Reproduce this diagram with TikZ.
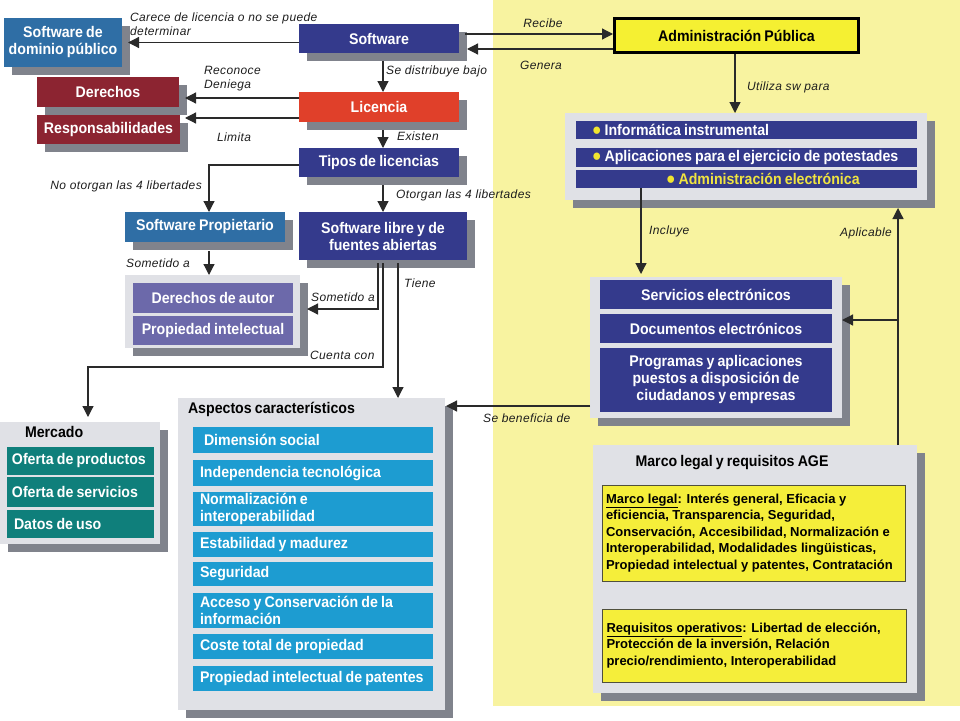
\documentclass[tikz,border=0pt]{standalone}
\usepackage{fontspec}
\setmainfont{Liberation Sans}
\newfontfamily\condfont{Liberation Sans}[FakeStretch=0.92,WordSpace=0.8]
\newfontfamily\lblfont{Liberation Sans}[LetterSpace=3]
\usetikzlibrary{arrows.meta,shadows,calc}
\definecolor{bgyellow}{RGB}{248,243,160}
\definecolor{dkblue}{RGB}{52,58,140}
\definecolor{stblue}{RGB}{47,110,165}
\definecolor{dkred}{RGB}{140,36,49}
\definecolor{licred}{RGB}{224,64,42}
\definecolor{purp}{RGB}{108,105,170}
\definecolor{tealbar}{RGB}{15,127,123}
\definecolor{cyanbar}{RGB}{29,156,209}
\definecolor{ltgray}{RGB}{224,225,230}
\definecolor{shgray}{RGB}{128,131,140}
\definecolor{admyellow}{RGB}{245,240,50}
\definecolor{boxyellow}{RGB}{245,238,58}
\definecolor{boxline}{RGB}{80,80,60}
\definecolor{bul}{RGB}{240,228,48}
\definecolor{ylwtext}{RGB}{240,228,64}
\definecolor{linec}{RGB}{42,42,42}
\definecolor{lblc}{RGB}{30,30,30}
\newcommand{\ind}{\hspace*{7pt}}
\newcommand{\bult}{{\color{bul}\fontsize{17}{17}\selectfont ●}}
\begin{document}
\begin{tikzpicture}[x=1pt,y=-1pt,
  bx/.style={inner sep=0pt, outer sep=0pt, text=white, font=\condfont\bfseries\fontsize{15.4}{17}\selectfont, align=center},
  shd/.style={drop shadow={shadow xshift=8pt,shadow yshift=-8pt,fill=shgray,opacity=1}},
  grp/.style={fill=ltgray, inner sep=0pt, outer sep=0pt, shd},
  abar/.style={bx, fill=cyanbar, text width=240pt, minimum width=240pt, align=flush left},
  mbar/.style={bx, fill=tealbar, text width=147pt, minimum width=147pt, align=flush left},
  ibar/.style={bx, fill=dkblue, text width=341pt, minimum width=341pt, align=flush left},
  sbar/.style={bx, fill=dkblue, minimum width=232pt},
  ybox/.style={fill=boxyellow, draw=boxline, line width=0.8pt, inner xsep=4pt, inner ysep=0pt, text width=295pt, align=flush left, font=\bfseries\fontsize{13}{16.5}\selectfont, text=black},
  arr/.style={draw=linec, line width=1.2pt, -{Triangle[length=11pt,width=11pt]}},
  lbl/.style={font=\lblfont\itshape\fontsize{12}{14.5}\selectfont, text=lblc, inner sep=0pt, align=left}]
\useasboundingbox (0,0) rectangle (960,720);
\fill[bgyellow] (493,0) rectangle (960,706);

% left column boxes
\node[bx,shd,fill=stblue,minimum width=118pt,minimum height=49pt] (dom) at (63,42.5) {Software de\\dominio público};
\node[bx,shd,fill=dkred,minimum width=142pt,minimum height=30pt] (der) at (108,92) {Derechos};
\node[bx,shd,fill=dkred,minimum width=143pt,minimum height=29pt] (resp) at (108.5,129.5) {Responsabilidades};
\node[bx,shd,fill=dkblue,minimum width=160pt,minimum height=29pt] (sw) at (379,38.5) {Software};
\node[bx,shd,fill=licred,minimum width=160pt,minimum height=30pt] (lic) at (379,107) {Licencia};
\node[bx,shd,fill=dkblue,minimum width=160pt,minimum height=29pt] (tipos) at (379,162.5) {Tipos de licencias};
\node[bx,shd,fill=stblue,minimum width=160pt,minimum height=30pt] (prop) at (205,227) {Software Propietario};
\node[bx,shd,fill=dkblue,minimum width=168pt,minimum height=48pt] (libre) at (383,236) {Software libre y de\\fuentes abiertas};
\node[bx,text=black,fill=admyellow,draw=black,line width=3pt,outer sep=1.5pt,minimum width=244pt,minimum height=34pt] (adm) at (736.5,35.5) {Administración Pública};

% derechos group
\node[grp,minimum width=175pt,minimum height=73pt] (dgrp) at (212.5,311.5) {};
\node[bx,fill=purp,minimum width=160pt,minimum height=30pt] (dga) at (213,298) {Derechos de autor};
\node[bx,fill=purp,minimum width=160pt,minimum height=29pt] (dgb) at (213,330.5) {Propiedad intelectual};

% mercado
\node[grp,minimum width=160pt,minimum height=122pt] (merc) at (80,483) {};
\node[bx,text=black,anchor=west] (mtit) at (25,432) {Mercado};
\node[mbar,minimum height=28pt] (m1) at (80.5,461) {\hspace*{5pt}Oferta de productos};
\node[mbar,minimum height=30pt] (m2) at (80.5,492) {\hspace*{5pt}Oferta de servicios};
\node[mbar,minimum height=28pt] (m3) at (80.5,524) {\hspace*{7pt}Datos de uso};

% aspectos
\node[grp,minimum width=267pt,minimum height=312pt] (asp) at (311.5,554) {};
\node[bx,text=black,anchor=west] (atit) at (188,409) {Aspectos característicos};
\node[abar,minimum height=26pt] (a1) at (313,440) {\ind\hspace*{4pt}Dimensión social};
\node[abar,minimum height=26pt] (a2) at (313,473) {\ind Independencia tecnológica};
\node[abar,minimum height=34pt] (a3) at (313,509) {\ind Normalización e\\\ind interoperabilidad};
\node[abar,minimum height=25pt] (a4) at (313,544.5) {\ind Estabilidad y madurez};
\node[abar,minimum height=24pt] (a5) at (313,574) {\ind Seguridad};
\node[abar,minimum height=35pt] (a6) at (313,610.5) {\ind Acceso y Conservación de la\\\ind información};
\node[abar,minimum height=25pt] (a7) at (313,646.5) {\ind Coste total de propiedad};
\node[abar,minimum height=25pt] (a8) at (313,678.5) {\ind\mbox{Propiedad intelectual de patentes}};

% informatica group
\node[grp,minimum width=362pt,minimum height=87pt] (infgrp) at (746,156.5) {};
\node[ibar,minimum height=18pt] (i1) at (746.5,130) {\hspace*{16pt}\bult\ Informática instrumental};
\node[ibar,minimum height=19pt] (i2) at (746.5,157.5) {\hspace*{16pt}\bult\ Aplicaciones para el ejercicio de potestades};
\node[ibar,minimum height=18pt] (i3) at (746.5,179) {\hspace*{90pt}\bult\ {\color{ylwtext}Administración electrónica}};

% servicios group
\node[grp,minimum width=252pt,minimum height=141pt] (servgrp) at (716,347.5) {};
\node[sbar,minimum height=29pt] (s1) at (716,294.5) {Servicios electrónicos};
\node[sbar,minimum height=29pt] (s2) at (716,328.5) {Documentos electrónicos};
\node[sbar,minimum height=64pt] (s3) at (716,380) {Programas y aplicaciones\\puestos a disposición de\\ciudadanos y empresas};

% marco legal group
\node[grp,minimum width=324pt,minimum height=248pt] (marco) at (755,569) {};
\node[bx,text=black] (mtit2) at (732,463) {Marco legal y requisitos AGE};
\node[ybox,minimum width=303pt,minimum height=96pt] (y1) at (753.5,533) {\underline{Marco legal}: Interés general, Eficacia y\\eficiencia, Transparencia, Seguridad,\\Conservación, Accesibilidad, Normalización e\\Interoperabilidad, Modalidades lingüisticas,\\Propiedad intelectual y patentes, Contratación};
\node[ybox,minimum width=304pt,minimum height=73pt] (y2) at (754,645.5) {\underline{Requisitos operativos}: Libertad de elección,\\Protección de la inversión, Relación\\precio/rendimiento, Interoperabilidad};

% connectors
\draw[arr,shorten >=6pt] (sw.west |- dom.east) -- (dom.east);
\draw[arr,shorten >=6pt] (lic.west |- 0,98) -- (der.east |- 0,98);
\draw[arr,shorten >=5pt] (lic.west |- 0,118) -- (resp.east |- 0,118);
\draw[arr,shorten <=8pt] ([xshift=4pt]sw.south) -- ([xshift=4pt]lic.north);
\draw[arr,shorten <=8pt] ([xshift=4pt]lic.south) -- ([xshift=4pt]tipos.north);
\draw[arr,shorten <=6pt] (sw.east |- 0,34) -- (adm.west |- 0,34);
\draw[arr,shorten >=8pt] (adm.west |- 0,49) -- (sw.east |- 0,49);
\draw[arr] (adm.south -| 735,0) -- (infgrp.north -| 735,0);
\draw[arr] (tipos.west |- 0,165) -| ([xshift=4pt]prop.north);
\draw[arr,shorten <=8pt] ([xshift=4pt]tipos.south) -- (libre.north);
\draw[arr,shorten <=9pt] ([xshift=4pt]prop.south) -- ([xshift=4pt]prop.south |- dgrp.north);
\draw[arr,shorten <=3pt,shorten >=7pt] (libre.south -| 378,0) |- (dgrp.east |- 0,309);
\draw[arr,shorten <=3pt,shorten >=5pt] (libre.south -| 383,0) -- (383,367) -| (merc.north -| 88,0);
\draw[arr,shorten <=3pt] (libre.south -| 398,0) -- (asp.north -| 398,0);
\draw[arr,shorten >=1pt] (servgrp.west |- 0,406) -- (asp.east |- 0,406);
\draw[arr,shorten >=3pt] (i3.south -| 641,0) -- (servgrp.north -| 641,0);
\draw[arr,shorten >=8pt] (marco.north -| 898,0) -- (infgrp.south -| 898,0);
\coordinate (br) at (898,320);
\draw[arr] (br) -- (servgrp.east |- br);

% labels
\node[lbl,anchor=west] (l1) at (130,24) {Carece de licencia o no se puede\\determinar};
\node[lbl,anchor=west] (l2) at (204,78.5) {Reconoce\\Deniega};
\node[lbl,anchor=west] (l3) at (217,137) {Limita};
\node[lbl,anchor=west] (l4) at (386,71) {Se distribuye bajo};
\node[lbl,anchor=west] (l5) at (397,136) {Existen};
\node[lbl] (l6) at (543,23) {Recibe};
\node[lbl] (l7) at (541,65) {Genera};
\node[lbl,anchor=west] (l8) at (747,87) {Utiliza sw para};
\node[lbl,anchor=east] (l9) at (202,186) {No otorgan las 4 libertades};
\node[lbl,anchor=west] (l10) at (396,195) {Otorgan las 4 libertades};
\node[lbl,anchor=west] (l11) at (126,263) {Sometido a};
\node[lbl,anchor=west] (l12) at (311,297) {Sometido a};
\node[lbl,anchor=west] (l13) at (310,355) {Cuenta con};
\node[lbl,anchor=west] (l14) at (404,283) {Tiene};
\node[lbl,anchor=west] (l15) at (483,418) {Se beneficia de};
\node[lbl,anchor=west] (l16) at (649,231) {Incluye};
\node[lbl,anchor=east] (l17) at (892,233) {Aplicable};
\end{tikzpicture}
\end{document}
